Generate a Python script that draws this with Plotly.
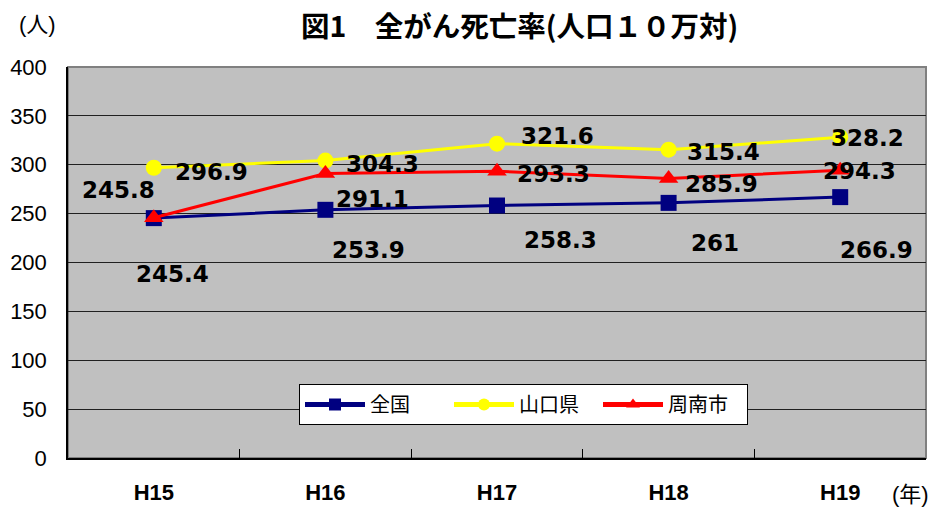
import plotly.graph_objects as go

years = ["H15", "H16", "H17", "H18", "H19"]
zenkoku = [245.4, 253.9, 258.3, 261, 266.9]
yamaguchi = [296.9, 304.3, 321.6, 315.4, 328.2]
shunan = [245.8, 291.1, 293.3, 285.9, 294.3]
y_ticks = [0, 50, 100, 150, 200, 250, 300, 350, 400]

FONT = "Liberation Sans, Arial, Noto Sans CJK JP"
LBLFONT = "DejaVu Sans, Noto Sans CJK JP"
CJK = "Noto Sans CJK JP"

fig = go.Figure()
fig.add_trace(go.Scatter(x=years, y=zenkoku, name="全国", mode="lines+markers",
                         line=dict(color="#000080", width=3),
                         marker=dict(symbol="square", size=16, color="#000080")))
fig.add_trace(go.Scatter(x=years, y=yamaguchi, name="山口県", mode="lines+markers",
                         line=dict(color="#FFFF00", width=3),
                         marker=dict(symbol="circle", size=16, color="#FFFF00")))
fig.add_trace(go.Scatter(x=years, y=shunan, name="周南市", mode="lines+markers",
                         line=dict(color="#FF0000", width=3),
                         marker=dict(symbol="triangle-up", size=17, color="#FF0000")))

# label pixel offsets (style only)
offs = {
    "z": [(19, -56), (43, -40), (63, -34), (46, -40), (36, -53)],
    "y": [(58, -4), (57, -3), (60, 8), (55, -2), (27, -1)],
    "s": [(-35, 28), (47, -26), (56, -3), (53, -5), (19, -1)],
}
for key, vals in (("z", zenkoku), ("y", yamaguchi), ("s", shunan)):
    for i, v in enumerate(vals):
        dx, dy = offs[key][i]
        fig.add_annotation(x=years[i], y=v, text=f"{v:g}", showarrow=False,
                           xshift=dx, yshift=dy, xanchor="center", yanchor="middle",
                           font=dict(family=LBLFONT, size=23, color="black", weight="bold"))

fig.add_shape(type="rect", xref="x domain", yref="y domain", x0=0, x1=1, y0=0, y1=1,
              line=dict(color="#808080", width=2), layer="below")

fig.add_annotation(text="図1　全がん死亡率(人口１０万対)", xref="paper", yref="paper",
                   x=(519 - 68) / 858, y=1 + (67 - 24) / 391, showarrow=False,
                   xanchor="center", yanchor="middle",
                   font=dict(family=CJK, size=28.5, color="black", weight="bold"))
fig.add_annotation(text="(人)", xref="paper", yref="paper",
                   x=(37 - 68) / 858, y=1 + (67 - 24) / 391, showarrow=False,
                   xanchor="center", yanchor="middle",
                   font=dict(family=FONT, size=22, color="black"))
fig.add_annotation(text="(年)", xref="paper", yref="paper",
                   x=(910 - 68) / 858, y=-(494 - 458) / 391, showarrow=False,
                   xanchor="center", yanchor="middle",
                   font=dict(family=FONT, size=22, color="black"))

fig.update_layout(
    width=934, height=507,
    margin=dict(l=68, r=8, t=67, b=49),
    paper_bgcolor="white", plot_bgcolor="#C0C0C0",
    font=dict(family=FONT, color="black"),
    showlegend=True,
    legend=dict(orientation="h", x=(299 - 68) / 858, y=(458 - 384) / 391,
                xanchor="left", yanchor="top",
                bgcolor="white", bordercolor="black", borderwidth=1,
                font=dict(family=CJK, size=20, color="black"),
                itemwidth=60, itemsizing="constant", tracegroupgap=0,
                entrywidth=74, entrywidthmode="pixels"),
)
fig.update_xaxes(type="category", tickson="boundaries", ticks="inside", ticklen=9,
                 tickcolor="black", showline=True, linecolor="black", linewidth=1.5,
                 showgrid=False, ticklabelstandoff=14, automargin=False,
                 tickfont=dict(family=FONT, size=22, color="black", weight="bold"),
                 range=[-0.5, 4.5])
fig.update_yaxes(range=[0, 400], tickvals=y_ticks, ticktext=[str(t) for t in y_ticks],
                 showgrid=True, gridcolor="#202020", gridwidth=1,
                 showline=True, linecolor="black", linewidth=1.5, ticks="",
                 ticklabelstandoff=15, zeroline=False, automargin=False,
                 tickfont=dict(family=FONT, size=22, color="black"))

fig.write_html("out.html", config={"displayModeBar": False},
               post_script="document.body.style.margin='0px';document.body.style.overflow='hidden';")
